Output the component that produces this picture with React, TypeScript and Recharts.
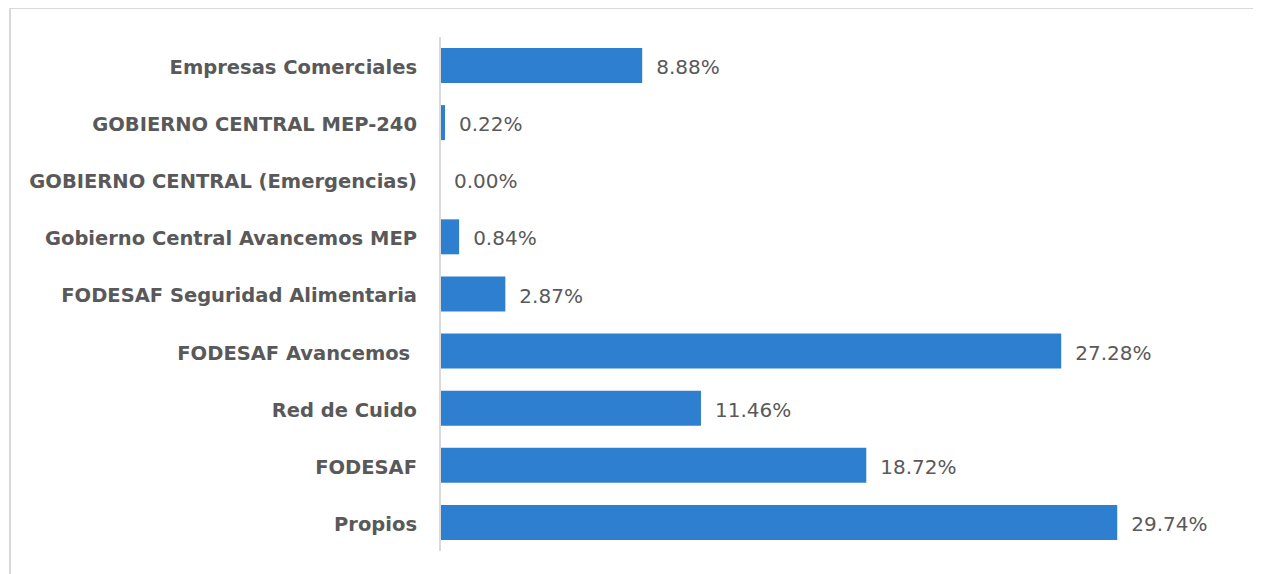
import React from 'react';
import { BarChart, Bar, XAxis, YAxis, LabelList } from 'recharts';

const categories = [
  'Empresas Comerciales',
  'GOBIERNO CENTRAL MEP-240',
  'GOBIERNO CENTRAL (Emergencias)',
  'Gobierno Central Avancemos MEP',
  'FODESAF Seguridad Alimentaria',
  'FODESAF Avancemos ',
  'Red de Cuido',
  'FODESAF',
  'Propios',
];
const values = [8.88, 0.22, 0.0, 0.84, 2.87, 27.28, 11.46, 18.72, 29.74];

const data = categories.map((name, i) => ({ name, value: values[i] }));

const FONT = '"DejaVu Sans", "Liberation Sans", Arial, sans-serif';

const CategoryTick = (props: any) => {
  const { x, y, payload } = props;
  return (
    <text
      x={x}
      y={y + 1.5}
      dy="0.355em"
      textAnchor="end"
      fill="#595959"
      fontSize={19.5}
      fontWeight={700}
      fontFamily={FONT}
      style={{ whiteSpace: 'pre' }}
    >
      {payload.value}
    </text>
  );
};

const ValueLabel = (props: any) => {
  const { x, y, width, height, value } = props;
  return (
    <text
      x={Number(x) + Number(width) + 14}
      y={Number(y) + Number(height) / 2 + 1.5}
      dy="0.355em"
      textAnchor="start"
      fill="#595959"
      fontSize={20}
      fontFamily={FONT}
    >
      {`${Number(value).toFixed(2)}%`}
    </text>
  );
};

export default function App() {
  return (
    <div style={{ position: 'relative', width: 1253, height: 566, fontFamily: FONT }}>
      <div
        style={{
          position: 'absolute',
          left: 1,
          top: -1,
          width: 1300,
          height: 600,
          borderTop: '2px solid #d9d9d9',
          borderLeft: '2px solid #d9d9d9',
          boxSizing: 'border-box',
        }}
      />
      <div style={{ position: 'absolute', left: 0, top: 0 }}>
        <BarChart
          width={1253}
          height={566}
          data={data}
          layout="vertical"
          margin={{ top: 29, right: 24, bottom: 23, left: 0 }}
          barCategoryGap={11}
        >
          <XAxis type="number" domain={[0, 35]} hide />
          <YAxis
            type="category"
            dataKey="name"
            width={432}
            axisLine={{ stroke: '#d9d9d9', strokeWidth: 2 }}
            tickLine={false}
            tickSize={0}
            tickMargin={23}
            tick={<CategoryTick />}
            interval={0}
          />
          <Bar
            dataKey="value"
            fill="#2e7fcf"
            barSize={35}
            minPointSize={0.01}
            isAnimationActive={false}
          >
            <LabelList dataKey="value" content={<ValueLabel />} />
          </Bar>
        </BarChart>
      </div>
    </div>
  );
}
